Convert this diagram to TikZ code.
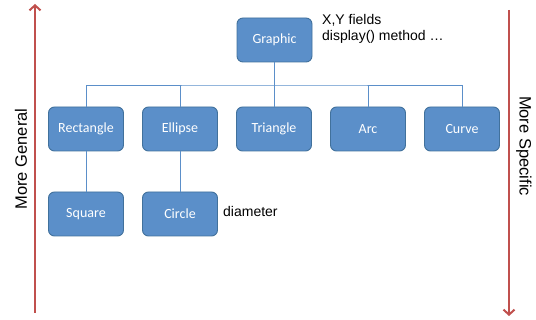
\documentclass[tikz,border=0pt]{standalone}
\usepackage{fontspec}
\setmainfont{Liberation Sans}
\newfontfamily\boxfont{Carlito}
\usetikzlibrary{arrows.meta}
\definecolor{boxfill}{HTML}{5B8FC9}
\definecolor{boxline}{HTML}{41719C}
\definecolor{conn}{HTML}{5B8FC9}
\definecolor{arrowred}{HTML}{C0504D}
\begin{document}
\begin{tikzpicture}[x=1pt,y=-1pt,
  cls/.style={draw=boxline, line width=0.9pt, fill=boxfill, rounded corners=6pt,
    minimum width=75pt, minimum height=44pt, text=white, font=\boxfont\fontsize{14}{16}\selectfont, inner sep=0pt},
  link/.style={draw=conn, line width=0.9pt},
  bigarrow/.style={draw=arrowred, line width=2pt, -{Straight Barb[length=5pt,width=11pt,line width=2pt]}},
  note/.style={font=\fontsize{14}{16}\selectfont, anchor=west, inner sep=0pt, align=left}]
\useasboundingbox (0,0) rectangle (536,320);
\node[cls] (g) at (274.5,40) {Graphic};
\node[cls] (rect) at (86,129) {Rectangle};
\node[cls] (ell) at (180,129) {Ellipse};
\node[cls] (tri) at (274,129) {Triangle};
\node[cls] (arc) at (368,129) {Arc};
\node[cls] (curve) at (462,129) {Curve};
\node[cls] (sq) at (86,214) {Square};
\node[cls] (circ) at (180,214) {Circle};
\coordinate (bus) at (274.5,85);
\draw[link] (g.south) -- (bus);
\draw[link] (rect.north) |- (bus) -| (curve.north);
\draw[link] (ell.north) -- (ell.north |- bus);
\draw[link] (tri.north) -- (tri.north |- bus);
\draw[link] (arc.north) -- (arc.north |- bus);
\draw[link] (rect.south) -- (sq.north);
\draw[link] (ell.south) -- (circ.north);
\node[note] (gnote) at (322,29) {X,Y fields\\display() method …};
\node[note] (dnote) at (223,211) {diameter};
\coordinate (lb) at (35,313);
\coordinate (lt) at (35,4);
\coordinate (rt) at (509,10);
\coordinate (rb) at (509,316);
\draw[bigarrow] (lb) -- (lt);
\draw[bigarrow] (rt) -- (rb);
\node[rotate=90, font=\fontsize{16.5}{19}\selectfont] (mg) at (21,159) {More General};
\node[rotate=-90, font=\fontsize{16.5}{19}\selectfont] (ms) at (524,146) {More Specific};
\end{tikzpicture}
\end{document}
